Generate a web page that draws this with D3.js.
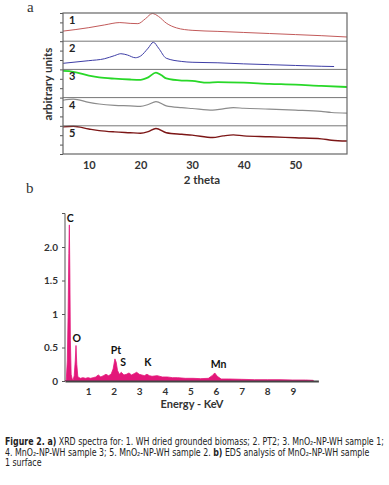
<!DOCTYPE html>
<html>
<head>
<meta charset="utf-8">
<script src="https://cdn.jsdelivr.net/npm/d3@7"></script>
<style>
  body { margin: 0; background: #fff; }
  svg { display: block; }
</style>
</head>
<body>
<div id="chart"></div>
<script>
// ---- XRD data (2 theta vs arbitrary intensity, 0-100 within each strip)
const xrdLabels = ["1", "2", "3", "4", "5"];
const xrdColors = ["#c25a5a", "#3e3ea6", "#28d828", "#8c8c8c", "#7c1616"];
const xrdWidths = [1, 1, 1.8, 1.2, 1.4];

const theta1 = [5, 10, 13, 16, 18, 19.5, 21, 22.3, 23.5, 25, 27, 30, 35, 40, 45, 50, 55, 60];
const xrd1 = [34, 47, 57, 66, 63, 62, 81, 100, 89, 64, 46, 37, 33, 29, 25, 21, 17, 12];

const theta2 = [5, 10, 13, 15, 16.2, 17.5, 19, 20, 21.5, 22.5, 23.5, 25, 28, 30, 35, 40, 45, 50, 55, 57.5];
const xrd2 = [19, 29, 36, 48, 55, 50, 40, 46, 76, 98, 76, 38, 26, 23, 21, 17, 14, 11, 8, 7];

const theta3 = [5, 7, 10, 12, 15, 18, 20, 21.5, 23, 24, 25, 28, 30, 33, 35, 40, 45, 50, 55, 60];
const xrd3 = [96, 93, 79, 72, 67, 64, 63, 72, 90, 81, 68, 60, 59, 52, 54, 52, 48, 45, 40, 36];

const theta4 = [5, 7, 10, 12, 15, 18, 20, 21.5, 23, 25, 28, 30, 34, 36, 38, 40, 45, 50, 55, 57, 60];
const xrd4 = [92, 96, 84, 78, 73, 71, 69, 76, 87, 71, 64, 61, 55, 60, 64, 62, 59, 55, 50, 46, 44];

const theta5 = [5, 7, 10, 12, 15, 18, 20, 21.5, 23, 25, 28, 30, 34, 36, 38, 40, 45, 50, 55, 57, 60];
const xrd5 = [98, 100, 90, 84, 79, 76, 74, 80, 92, 76, 70, 67, 58, 64, 68, 64, 61, 57, 53, 48, 45];

const xrdThetas = [theta1, theta2, theta3, theta4, theta5];
const xrdValues = [xrd1, xrd2, xrd3, xrd4, xrd5];
const xrdTicks = [10, 20, 30, 40, 50];

// ---- EDS data (energy keV vs counts)
const edsEnergy = [0.10, 0.15, 0.19, 0.22, 0.25, 0.27, 0.29, 0.31, 0.34, 0.38, 0.42, 0.46, 0.50, 0.53, 0.56, 0.60,
  0.65, 0.70, 0.80, 0.90, 1.00, 1.10, 1.20, 1.30, 1.40, 1.50, 1.60, 1.70, 1.80, 1.90, 1.98, 2.05, 2.10, 2.15,
  2.22, 2.30, 2.40, 2.50, 2.60, 2.70, 2.80, 2.90, 3.00, 3.10, 3.20, 3.30, 3.40, 3.50, 3.70, 3.90, 4.10, 4.30,
  4.50, 4.80, 5.10, 5.40, 5.70, 5.85, 5.95, 6.05, 6.20, 6.50, 7.00, 7.50, 8.00, 8.50, 9.00, 9.50, 9.80];
const edsCounts = [0, 0.02, 0.3, 0.95, 1.9, 2.33, 1.6, 0.6, 0.1, 0.03, 0.02, 0.08, 0.3, 0.53, 0.25, 0.07,
  0.05, 0.04, 0.05, 0.04, 0.05, 0.04, 0.05, 0.06, 0.09, 0.06, 0.08, 0.1, 0.08, 0.1, 0.18, 0.33, 0.28, 0.16,
  0.1, 0.13, 0.09, 0.1, 0.12, 0.09, 0.11, 0.13, 0.1, 0.09, 0.08, 0.1, 0.08, 0.07, 0.08, 0.06, 0.06, 0.05,
  0.05, 0.04, 0.04, 0.035, 0.04, 0.08, 0.12, 0.07, 0.03, 0.03, 0.025, 0.02, 0.02, 0.02, 0.015, 0.015, 0.01];
const edsTicks = [1, 2, 3, 4, 5, 6, 7, 8, 9];
const edsYTicks = [0, 0.5, 1, 1.5, 2];
const edsYTickLabels = ["0", "0.5", "1", "1.5", "2.0"];
const edsElements = ["C", "O", "Pt", "S", "K", "Mn"];
const edsElemEnergy = [0.3, 0.56, 2.09, 2.37, 3.34, 6.1];
const edsElemLevel = [2.43, 0.64, 0.46, 0.28, 0.28, 0.25];

const W = 389, H = 485;
const svg = d3.select("#chart").append("svg")
  .attr("width", W).attr("height", H);

const boldFont = "Lato, 'DejaVu Sans', sans-serif";

// panel letters
svg.append("text").attr("x", 27).attr("y", 12)
  .attr("font-family", "'Liberation Serif', 'DejaVu Serif', serif").attr("font-size", 15)
  .attr("fill", "#333").text("a");
svg.append("text").attr("x", 26).attr("y", 193)
  .attr("font-family", "'Liberation Serif', 'DejaVu Serif', serif").attr("font-size", 15)
  .attr("fill", "#333").text("b");

// ================= XRD =================
const xr = { left: 63, right: 347, top: 13, bottom: 154 };
const x = d3.scaleLinear().domain([5, 60]).range([xr.left, xr.right]);
const band = d3.scaleBand().domain(xrdLabels).range([xr.top, xr.bottom]).padding(0);

const gx = svg.append("g");

// left ticks (no labels)
const yTickScale = d3.scaleLinear().domain([0, 15]).range([xr.bottom, xr.top]);
gx.append("g")
  .attr("transform", `translate(${xr.left},0)`)
  .call(d3.axisLeft(yTickScale).ticks(15).tickSize(3).tickFormat(""))
  .call(g => g.select(".domain").remove())
  .call(g => g.selectAll("line").attr("stroke", "#555"));

xrdLabels.forEach((lab, i) => {
  const y0 = band(lab), bh = band.bandwidth();
  const y = d3.scaleLinear().domain([0, 100]).range([y0 + bh - 1, y0 + 0.5]);
  const pts = xrdThetas[i].map((t, j) => [t, xrdValues[i][j]]);
  gx.append("path")
    .datum(pts)
    .attr("fill", "none")
    .attr("stroke", xrdColors[i])
    .attr("stroke-width", xrdWidths[i])
    .attr("d", d3.line().x(d => x(d[0])).y(d => y(d[1])).curve(d3.curveMonotoneX));
  gx.append("text")
    .attr("x", xr.left + 6).attr("y", y0 + 11)
    .attr("font-family", boldFont).attr("font-weight", 700)
    .attr("font-size", 11).attr("fill", "#222").text(lab);
  if (i > 0) {
    gx.append("line")
      .attr("x1", xr.left).attr("x2", xr.right)
      .attr("y1", y0).attr("y2", y0)
      .attr("stroke", "#777").attr("stroke-width", 1);
  }
});

gx.append("rect")
  .attr("x", xr.left).attr("y", xr.top)
  .attr("width", xr.right - xr.left).attr("height", xr.bottom - xr.top)
  .attr("fill", "none").attr("stroke", "#666").attr("stroke-width", 1.2);

// x labels
gx.append("g")
  .attr("transform", `translate(0,${xr.bottom})`)
  .call(d3.axisBottom(x).tickValues(xrdTicks).tickSize(0).tickPadding(7))
  .call(g => g.select(".domain").remove())
  .call(g => g.selectAll("text").attr("font-family", boldFont).attr("font-weight", 700)
    .attr("font-size", 11).attr("fill", "#333"));

gx.append("text")
  .attr("x", 202).attr("y", 184).attr("text-anchor", "middle")
  .attr("font-family", boldFont).attr("font-weight", 700)
  .attr("font-size", 11.5).attr("fill", "#333").text("2 theta");

gx.append("text")
  .attr("transform", "translate(52,84) rotate(-90)")
  .attr("text-anchor", "middle")
  .attr("font-family", boldFont).attr("font-weight", 700)
  .attr("font-size", 11).attr("fill", "#333")
  .attr("textLength", 73).attr("lengthAdjust", "spacingAndGlyphs")
  .text("arbitrary units");

// ================= EDS =================
const ex = d3.scaleLinear().domain([0.1, 10]).range([65, 318.4]);
const ey = d3.scaleLinear().domain([0, 2.5]).range([381, 213.5]);
const ge = svg.append("g");
const pink = "#e3177a";

const edsPts = edsEnergy.map((e, i) => [e, edsCounts[i]]);
ge.append("path")
  .datum(edsPts)
  .attr("fill", pink)
  .attr("stroke", pink)
  .attr("stroke-width", 0.8)
  .attr("d", d3.area().x(d => ex(d[0])).y0(ey(0)).y1(d => ey(d[1])));

// y axis
ge.append("g")
  .attr("transform", `translate(${ex(0.1)},0)`)
  .call(d3.axisLeft(ey).tickValues(edsYTicks).tickSize(3).tickPadding(4)
    .tickFormat((d, i) => edsYTickLabels[i]))
  .call(g => g.select(".domain").attr("stroke", "#555").attr("d", `M-3,${ey(2.5)}H0V${ey(0)}`))
  .call(g => g.selectAll("line").attr("stroke", "#555"))
  .call(g => g.selectAll("text").attr("font-family", boldFont).attr("font-weight", 700)
    .attr("font-size", 10).attr("fill", "#333"));

// x axis
ge.append("g")
  .attr("transform", `translate(0,${ey(0)})`)
  .call(d3.axisBottom(ex).tickValues(edsTicks).tickSize(0).tickPadding(7))
  .call(g => g.select(".domain").attr("stroke", "#444").attr("stroke-width", 2))
  .call(g => g.selectAll("text").attr("font-family", boldFont).attr("font-weight", 700)
    .attr("font-size", 10).attr("fill", "#333"));

ge.append("text")
  .attr("x", 192).attr("y", 408).attr("text-anchor", "middle")
  .attr("font-family", boldFont).attr("font-weight", 700)
  .attr("font-size", 11).attr("fill", "#333").text("Energy - KeV");

edsElements.forEach((el, i) => {
  ge.append("text")
    .attr("x", ex(edsElemEnergy[i])).attr("y", ey(edsElemLevel[i]))
    .attr("dy", "0.35em").attr("text-anchor", "middle")
    .attr("font-family", boldFont).attr("font-weight", 700)
    .attr("font-size", 10.5).attr("fill", "#111").text(el);
});

// ================= caption =================
// condensed look: the caption group is squeezed horizontally
const capFont = "'Liberation Sans Narrow', 'DejaVu Sans Condensed', 'Liberation Sans', sans-serif";
const capLines = [
  { y: 445.5, parts: [["Figure 2. a)", 1], [" XRD spectra for: 1. WH dried grounded biomass; 2. PT2; 3. MnO₂-NP-WH sample 1;", 0]] },
  { y: 456, parts: [["4. MnO₂-NP-WH sample 3; 5. MnO₂-NP-WH sample 2. ", 0], ["b)", 1], [" EDS analysis of MnO₂-NP-WH sample", 0]] },
  { y: 466.5, parts: [["1 surface", 0]] }
];
const cap = svg.append("g").attr("transform", "translate(5,0) scale(0.875,1)");
capLines.forEach(line => {
  const t = cap.append("text")
    .attr("x", 0).attr("y", line.y)
    .attr("font-family", capFont).attr("font-size", 10).attr("fill", "#222");
  line.parts.forEach(([s, k]) => {
    const sp = t.append("tspan").text(s);
    if (k === 1) sp.attr("font-weight", 700);
  });
});
</script>
</body>
</html>
